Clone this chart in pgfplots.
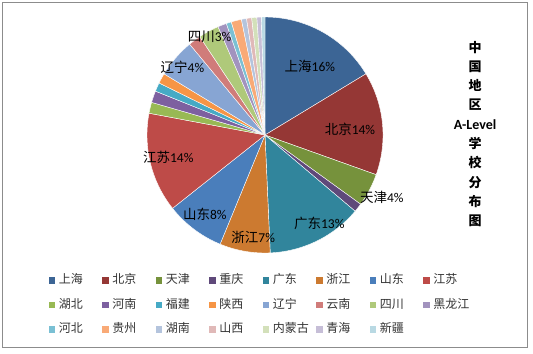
\documentclass[border=0pt]{standalone}
\usepackage{pgfplots}
\pgfplotsset{compat=1.18}
\usepackage{pgfplotstable}
\usepackage{fontspec}
\setmainfont{Carlito}
\newfontfamily\cjk{Noto Sans CJK SC}

\definecolor{slice0}{HTML}{3C6595}
\definecolor{slice1}{HTML}{953735}
\definecolor{slice2}{HTML}{76923C}
\definecolor{slice3}{HTML}{5F497A}
\definecolor{slice4}{HTML}{31859C}
\definecolor{slice5}{HTML}{CC7A30}
\definecolor{slice6}{HTML}{4A7EBB}
\definecolor{slice7}{HTML}{BE4B48}
\definecolor{slice8}{HTML}{98B954}
\definecolor{slice9}{HTML}{7D60A0}
\definecolor{slice10}{HTML}{46AAC5}
\definecolor{slice11}{HTML}{F69545}
\definecolor{slice12}{HTML}{87A5D3}
\definecolor{slice13}{HTML}{D07C7A}
\definecolor{slice14}{HTML}{AFC97A}
\definecolor{slice15}{HTML}{A293BE}
\definecolor{slice16}{HTML}{7AC0D4}
\definecolor{slice17}{HTML}{F9AA77}
\definecolor{slice18}{HTML}{B4C4DD}
\definecolor{slice19}{HTML}{E0B9B8}
\definecolor{slice20}{HTML}{D3E0BA}
\definecolor{slice21}{HTML}{C6BED7}
\definecolor{slice22}{HTML}{B9D9E3}

\tikzset{lab/.style={font=\fontsize{13.5bp}{16bp}\selectfont, text=black, inner sep=0pt}}

% share of schools by region
\pgfplotstableread{
name value
上海 16.3
北京 14.1
天津 4.5
重庆 1.2
广东 13.1
浙江 6.9
山东 8.1
江苏 13.6
湖北 1.5
河南 1.6
福建 1.2
陕西 1.4
辽宁 5.3
云南 1.7
四川 2.8
黑龙江 1.2
河北 0.7
贵州 1.4
湖南 0.7
山西 0.7
内蒙古 0.7
青海 0.6
新疆 0.5
}\piedata

\pgfplotstablegetrowsof{\piedata}%
\pgfmathtruncatemacro\nrows{\pgfplotsretval-1}%
\xdef\total{0}%
\foreach \i in {0,...,\nrows}{%
  \pgfplotstablegetelem{\i}{value}\of\piedata
  \pgfmathsetmacro\sT{\total+\pgfplotsretval}%
  \xdef\total{\sT}%
}%
\xdef\cum{0}%
\foreach \i in {0,...,\nrows}{%
  \pgfplotstablegetelem{\i}{value}\of\piedata
  \pgfmathsetmacro\sA{90-360*(\cum/\total)}%
  \pgfmathsetmacro\sC{\cum+\pgfplotsretval}%
  \pgfmathsetmacro\sB{90-360*(\sC/\total)}%
  \expandafter\xdef\csname sa\i\endcsname{\sA}%
  \expandafter\xdef\csname sb\i\endcsname{\sB}%
  \xdef\cum{\sC}%
}%

\begin{document}
\begin{tikzpicture}
\begin{axis}[
  x=118bp, y=118bp,
  xmin=-2.2458, xmax=2.2712, ymin=-1.8559, ymax=1.1441,
  anchor=south west, at={(0,0)},
  hide axis, clip=false,
  legend columns=8,
  legend cell align=left,
  legend entries={上海,北京,天津,重庆,广东,浙江,山东,江苏,湖北,河南,福建,陕西,辽宁,云南,四川,黑龙江,河北,贵州,湖南,山西,内蒙古,青海,新疆},
  legend image code/.code={\path[#1, draw=none] (0bp,-3.2bp) rectangle (6.5bp,3.3bp);},
  legend style={draw=none, fill=none, inner sep=0pt, outer sep=0pt,
    at={(axis description cs:49/533,1-305/354)}, anchor=west,
    font=\cjk\fontsize{12bp}{13bp}\selectfont, text=black!80,
    nodes={inner xsep=3.5bp, inner ysep=0pt, text width=40bp, text height=8.5bp, text depth=2bp, align=left},
    row sep=14bp},
]
\path (rel axis cs:0,0) rectangle (rel axis cs:1,1);
\pgfplotsinvokeforeach{0,...,22}{%
  \addplot[draw=white, line width=0.4bp, fill=slice#1,
    domain=\csname sb#1\endcsname:\csname sa#1\endcsname, samples=60]
    ({cos(x)},{sin(x)}) -- (axis cs:0,0) -- cycle;
}
\node[lab] at (axis cs:0.38,0.58) {{\cjk 上海}16\%};
\node[lab] at (axis cs:0.72,0.05) {{\cjk 北京}14\%};
\node[lab] at (axis cs:0.99,-0.53) {{\cjk 天津}4\%};
\node[lab] at (axis cs:0.46,-0.75) {{\cjk 广东}13\%};
\node[lab] at (axis cs:-0.10,-0.87) {{\cjk 浙江}7\%};
\node[lab] at (axis cs:-0.51,-0.67) {{\cjk 山东}8\%};
\node[lab] at (axis cs:-0.82,-0.19) {{\cjk 江苏}14\%};
\node[lab] at (axis cs:-0.70,0.57) {{\cjk 辽宁}4\%};
\node[lab] at (axis cs:-0.47,0.83) {{\cjk 四川}3\%};
\node[align=center, inner sep=0pt, font=\cjk\bfseries\fontsize{13bp}{19.3bp}\selectfont]
  at (axis description cs:475/533,1-134/354)
  {中\\国\\地\\区\\{\rmfamily\bfseries\fontsize{14bp}{19.3bp}\selectfont A-Level}\\学\\校\\分\\布\\图};
\draw[black!45, line width=0.9bp] (rel axis cs:2.5/533,1-347/354) rectangle (rel axis cs:527/533,1-2.5/354);
\end{axis}
\end{tikzpicture}
\end{document}
